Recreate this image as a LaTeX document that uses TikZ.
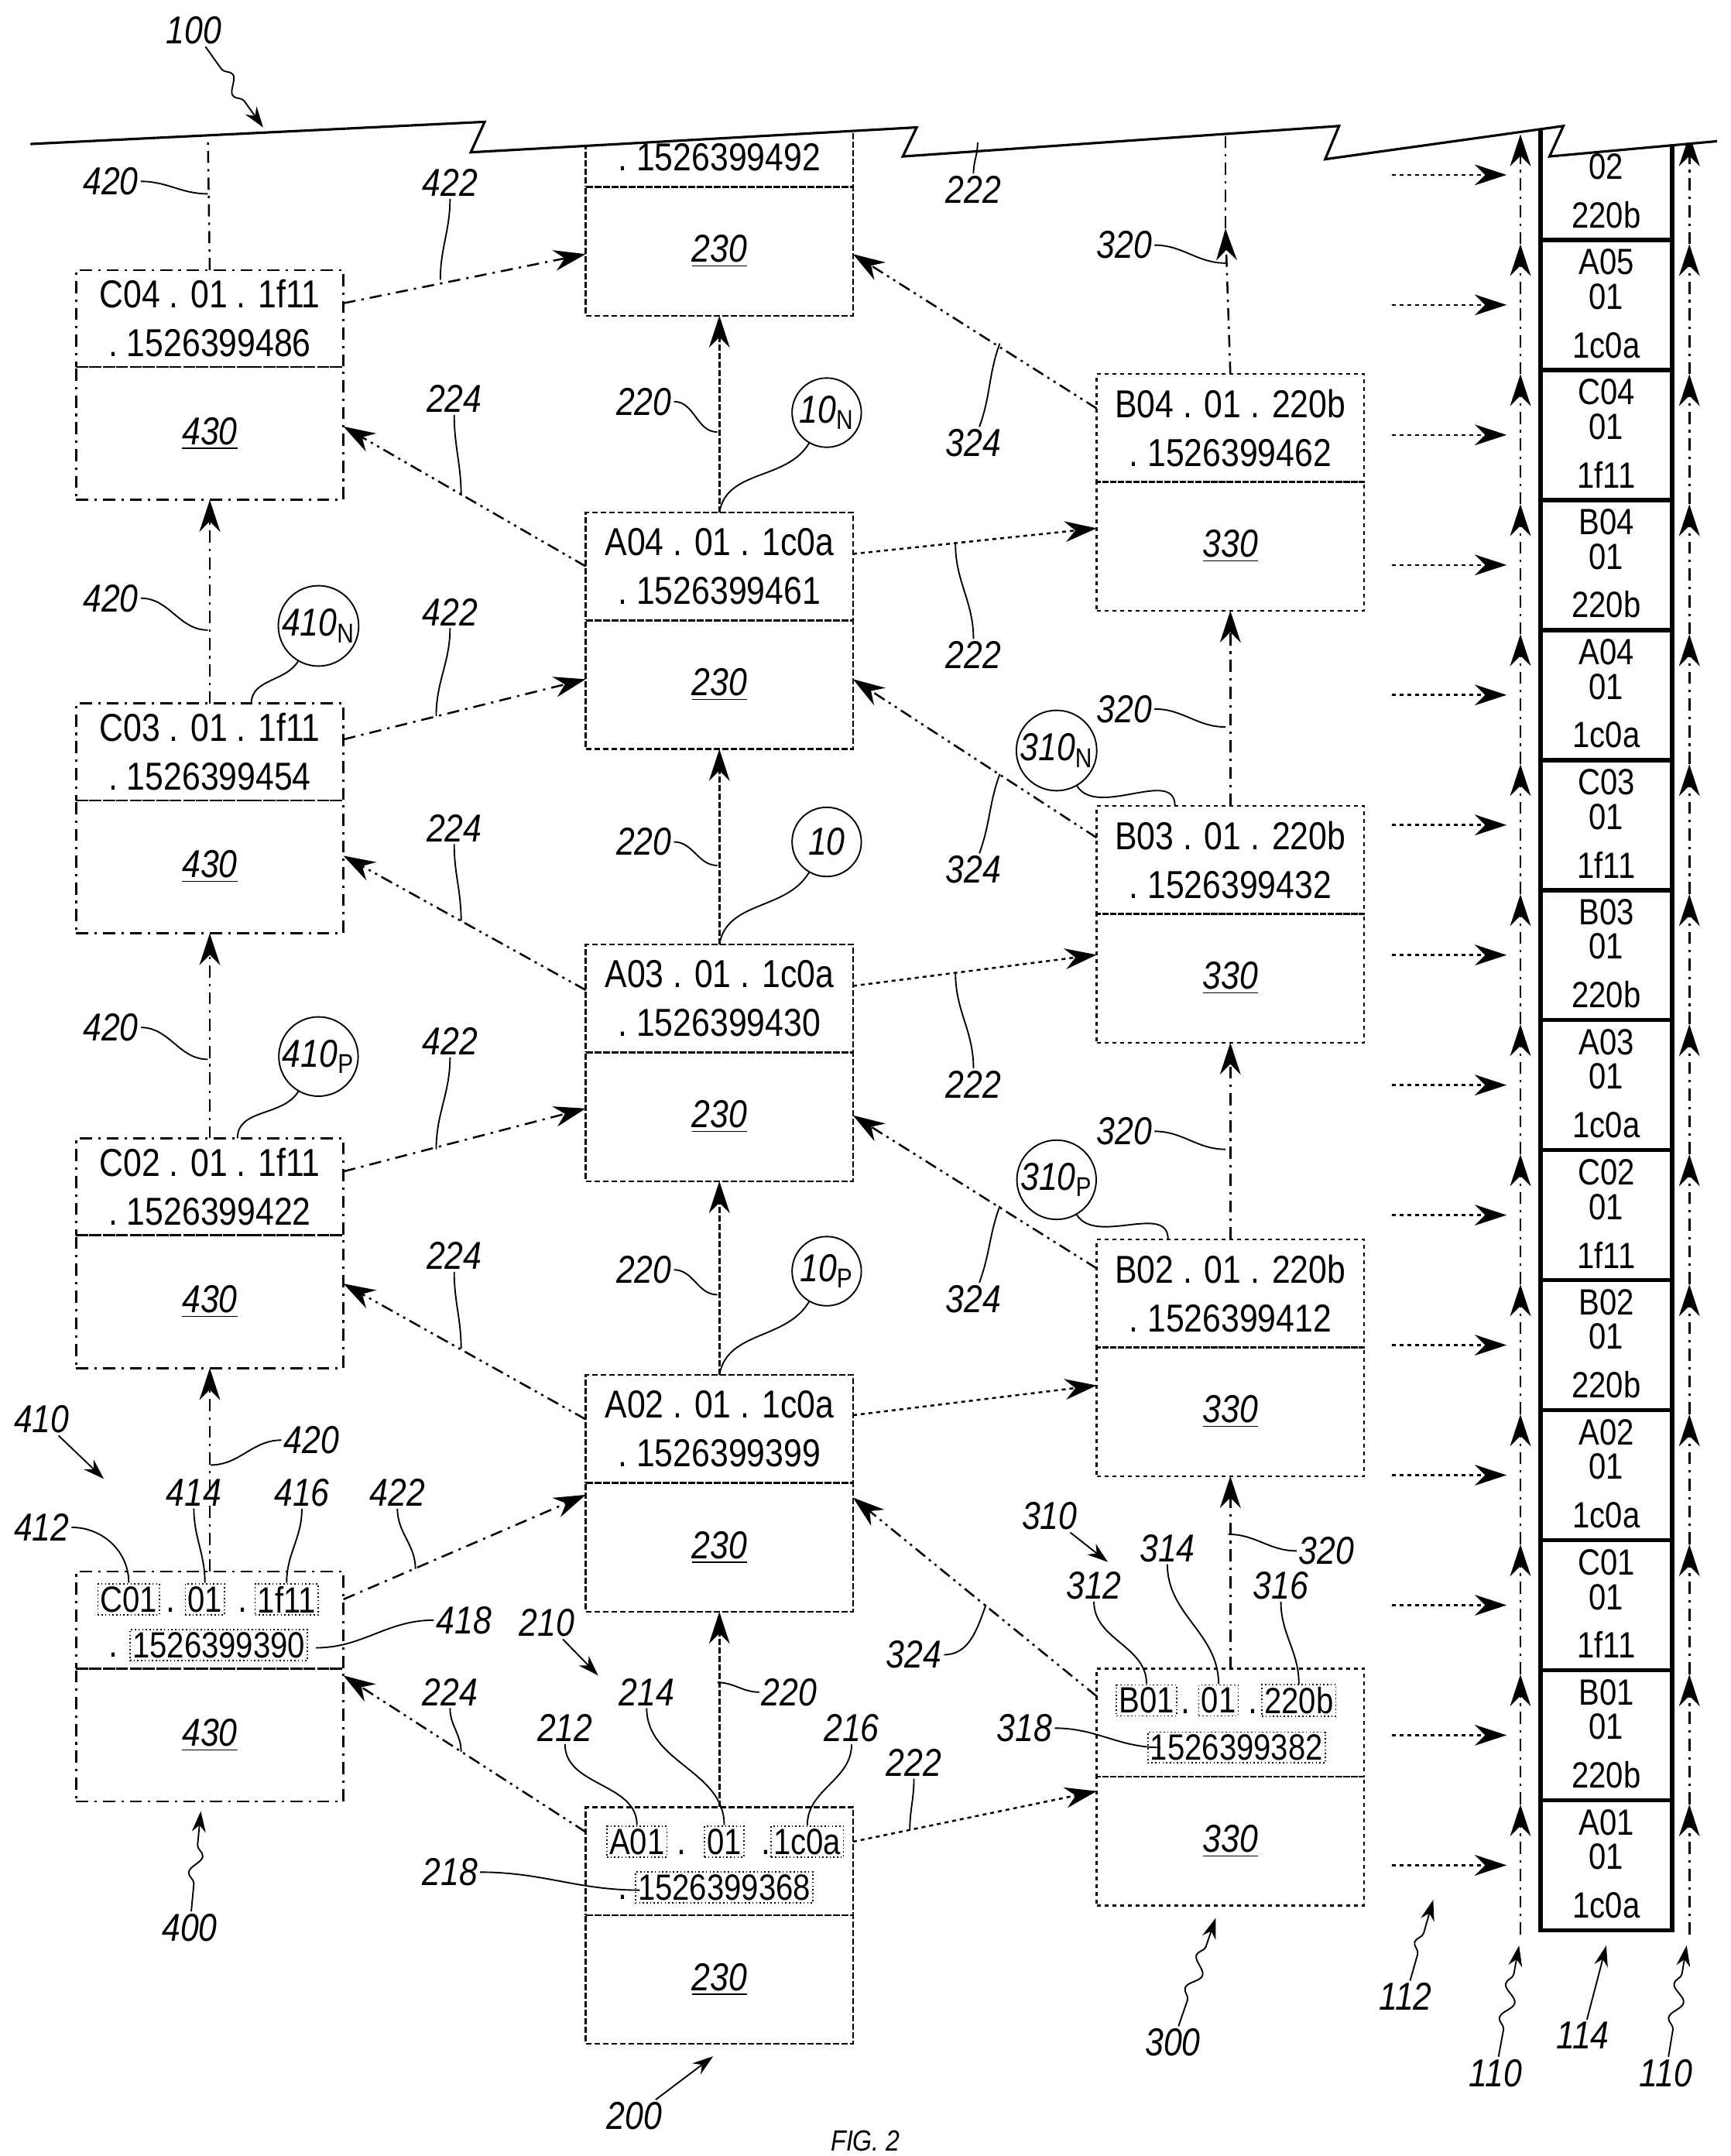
\documentclass[tikz,border=0pt]{standalone}
\usepackage{fontspec}
\setmainfont{Liberation Sans}
\newfontfamily\boxfont[FakeStretch=0.85]{Liberation Sans}
\newfontfamily\reffont[FakeStretch=0.85]{Liberation Sans Italic}
\usetikzlibrary{arrows.meta,positioning,decorations.pathmorphing}

\tikzset{
  every node/.style={outer sep=0pt},
  hdr/.style={minimum width=38.6mm,minimum height=15.6mm,inner sep=0pt,align=center,
    font=\boxfont\fontsize{16}{20}\selectfont},
  bdy/.style={minimum width=38.6mm,minimum height=18.6mm,inner sep=0pt,
    font=\reffont\fontsize{16}{20}\selectfont},
  lineA/.style={draw,line width=0.8pt,dash pattern=on 2.5pt off 1pt},
  lineB/.style={draw,line width=0.8pt,dash pattern=on 1.6pt off 1.6pt},
  lineC/.style={draw,line width=0.8pt,dash pattern=on 5pt off 2.5pt on 1pt off 2.5pt},
  lineD/.style={draw,line width=0.8pt,dash pattern=on 5pt off 2pt on 1pt off 2pt on 1pt off 2pt},
  arr/.style={-{Stealth[length=4.6mm,width=3mm]}},
  sub/.style={draw,line width=0.5pt,densely dotted,inner sep=1pt,font=\boxfont\fontsize{15}{18}\selectfont},
  dot/.style={inner sep=0pt,font=\boxfont\fontsize{16}{20}\selectfont},
  ref/.style={inner sep=1pt,font=\reffont\fontsize{16}{20}\selectfont},
  lead/.style={line width=0.6pt},
  circ/.style={circle,draw,line width=0.6pt,minimum size=10mm,inner sep=0pt,font=\reffont\fontsize{16}{20}\selectfont},
  cell/.style={draw,line width=1.8pt,minimum width=19mm,minimum height=18.78mm,inner sep=0pt},
  celltext/.style={inner sep=0pt,align=center,font=\boxfont\fontsize{15}{14.2}\selectfont},
  squig/.style={lead,decorate,decoration={snake,segment length=5mm,amplitude=0.9mm,pre length=4mm,post length=4mm}}
}
\newcommand\refl[6]{\node[ref] (#1) at (#2) {#3}; \coordinate (#1t) at (#4);
  \draw[lead] (#1) to[out=#5,in=#6] (#1t);}
\newcommand\squl[4]{\node[ref] (#1) at (#2) {#3}; \coordinate (#1t) at (#4);
  \draw[squig,-{Stealth[length=3mm,width=2mm]}] (#1) -- (#1t);}

\begin{document}
\begin{tikzpicture}[x=0.2mm,y=-0.2mm]
\useasboundingbox (0,0) rectangle (1250,1557);

% broken top edge
\begin{scope}
\clip (22,104) -- (350,88) -- (340,110) -- (662,92) -- (652,113) -- (967,91) -- (957,115)
  -- (1129,91) -- (1119,113) -- (1250,100) -- (1250,1557) -- (0,1557) -- cycle;

% column 200
\foreach \i/\y/\t in {2/993/1526399399,3/682/1526399430,4/370/1526399461,5/57/1526399492}{
  \node[hdr,lineA,anchor=north west] (a\i) at (423,\y) {A0\i\ . 01 . 1c0a\\ .\ \t};
  \node[bdy,lineA,below=0pt of a\i] (a\i b) {\underline{230}};
}
\node[hdr,lineA,anchor=north west] (a1) at (423,1305) {};
\node[bdy,lineA,below=0pt of a1] (a1b) {\underline{230}};
\node[sub] (a1x) at (460,1330) {A01};
\node[dot] at (492,1338) {.};
\node[sub] (a1y) at (523,1330) {01};
\node[dot] at (553,1338) {.};
\node[sub] (a1z) at (583,1330) {1c0a};
\node[dot] at (450,1370) {.};
\node[sub] (a1t) at (523,1363) {1526399368};

% column 400
\foreach \i/\y/\t in {2/822/1526399422,3/508/1526399454,4/195/1526399486}{
  \node[hdr,lineC,minimum height=14mm,anchor=north west] (c\i) at (55,\y) {C0\i\ . 01 . 1f11\\ .\ \t};
  \node[bdy,lineC,minimum height=19.2mm,below=0pt of c\i] (c\i b) {\underline{430}};
}
\node[hdr,lineC,minimum height=14mm,anchor=north west] (c1) at (55,1135) {};
\node[bdy,lineC,minimum height=19.2mm,below=0pt of c1] (c1b) {\underline{430}};
\node[sub] (c1x) at (93,1155) {C01};
\node[dot] at (123,1163) {.};
\node[sub] (c1y) at (148,1155) {01};
\node[dot] at (175,1163) {.};
\node[sub] (c1z) at (207,1155) {1f11};
\node[dot] at (82,1195) {.};
\node[sub] (c1t) at (158,1188) {1526399390};

% column 300
\foreach \i/\y/\t in {2/895/1526399412,3/582/1526399432,4/270/1526399462}{
  \node[hdr,lineB,anchor=north west] (b\i) at (792,\y) {B0\i\ . 01 . 220b\\ .\ \t};
  \node[bdy,lineB,below=0pt of b\i] (b\i b) {\underline{330}};
}
\node[hdr,lineB,anchor=north west] (b1) at (792,1205) {};
\node[bdy,lineB,below=0pt of b1] (b1b) {\underline{330}};
\node[sub] (b1x) at (828,1228) {B01};
\node[dot] at (856,1236) {.};
\node[sub] (b1y) at (880,1228) {01};
\node[dot] at (905,1236) {.};
\node[sub] (b1z) at (938,1228) {220b};
\node[sub] (b1t) at (893,1262) {1526399382};

% links between the columns
\foreach \i/\j in {1/2,2/3,3/4,4/5}{
  \draw[lineA,arr] (a\i.north) -- (a\j b.south);
}
\foreach \i/\j in {1/2,2/3,3/4}{
  \draw[lineC,arr] (c\i.north) -- (c\j b.south);
  \draw[lineC,arr] (b\i.north) -- (b\j b.south);
}
\coordinate (ctop) at (150,90);
\coordinate (btip) at (885,165);
\coordinate (btop) at (885,90);
\draw[lineC] (c4.north) -- (ctop);
\draw[lineC,arr] (b4.north) -- (btip);
\draw[lineC] (btip) -- (btop);
\foreach \i/\s/\e in {1/2.8/7.2,2/2/3.8,3/1.8/3.4,4/1.8/2.6}{
  \draw[lineB,arr] ([yshift=\s mm]a\i.east) -- ([yshift=\e mm]b\i b.west);
}
\foreach \i/\s/\e in {1/4.2/8.6,2/1.4/2.6,3/1.2/1.6,4/0/1}{
  \draw[lineD,arr] ([yshift=\s mm]a\i.west) -- ([yshift=\e mm]c\i b.east);
}
\foreach \i/\j/\s/\e in {1/2/3.8/7.2,2/3/3.6/0.2,3/4/3.2/0.8,4/5/2.8/-0.4}{
  \draw[lineD,arr] ([yshift=\s mm]b\i.west) -- ([yshift=\e mm]a\j b.east);
}
\foreach \i/\j/\s/\e in {1/2/3/7.6,2/3/2.2/1.2,3/4/1.8/0.8,4/5/2.2/-0.4}{
  \draw[lineC,arr] ([yshift=\s mm]c\i.east) -- ([yshift=\e mm]a\j b.west);
}

% ledger 114
\foreach \p/\q/\r [count=\k from 0] in {A01/01/1c0a,B01/01/220b,C01/01/1f11,A02/01/1c0a,
    B02/01/220b,C02/01/1f11,A03/01/1c0a,B03/01/220b,C03/01/1f11,A04/01/1c0a,
    B04/01/220b,C04/01/1f11,A05/01/1c0a,B05/02/220b}{
  \node[cell] (l\k) at (1160,{1347-93.9*\k}) {};
  \node[celltext] at (1160,{1346-93.9*\k}) {\p\\\q\\[5.8pt]\r};
  \coordinate (h\k) at (1005,{1347-93.9*\k});
  \coordinate (g\k) at (1088,{1347-93.9*\k});
  \draw[lineB,arr] (h\k) -- (g\k);
}
\foreach \x/\n in {1098/u,1220/v}{
  \foreach \k in {0,...,13}{
    \coordinate (\n\k) at (\x,{1397-93.9*\k});
  }
  \coordinate (\n14) at (\x,97);
  \foreach \k [evaluate=\k as \m using int(\k+1)] in {0,...,13}{
    \draw[lineC,arr] (\n\k) -- (\n\m);
  }
}
\end{scope}
\draw[line width=1pt] (22,104) -- (350,88) -- (340,110) -- (662,92) -- (652,113) -- (967,91)
  -- (957,115) -- (1129,91) -- (1119,113) -- (1240,102);

% circled references
\node[circ] (k1) at (597,918) {10\textsubscript{\itshape P}};
\node[circ] (k2) at (597,608) {10};
\node[circ] (k3) at (597,298) {10\textsubscript{\itshape N}};
\node[circ] (k4) at (230,763) {410\textsubscript{\itshape P}};
\node[circ] (k5) at (230,452) {410\textsubscript{\itshape N}};
\node[circ] (k6) at (763,852) {310\textsubscript{\itshape P}};
\node[circ] (k7) at (763,542) {310\textsubscript{\itshape N}};
\draw[lead] (k1) to[out=240,in=80] (a2.north);
\draw[lead] (k2) to[out=240,in=80] (a3.north);
\draw[lead] (k3) to[out=240,in=80] (a4.north);
\draw[lead] (k4) to[out=240,in=90] ([xshift=4mm]c2.north);
\draw[lead] (k5) to[out=240,in=90] ([xshift=6mm]c3.north);
\draw[lead] (k6) to[out=-60,in=90] ([xshift=-9mm]b2.north);
\draw[lead] (k7) to[out=-60,in=90] ([xshift=-8mm]b3.north);

% reference numerals
\refl{r1}{80,131}{420}{150,140}{0}{180}
\refl{r2}{325,132}{422}{318,202}{-90}{90}
\refl{r3}{703,137}{222}{706,103}{90}{-90}
\refl{r4}{812,177}{320}{885,190}{0}{180}
\refl{r5}{328,288}{224}{333,358}{-90}{90}
\refl{r6}{465,290}{220}{518,312}{0}{180}
\refl{r7}{703,320}{324}{722,248}{70}{-110}
\refl{r8}{80,432}{420}{150,455}{0}{180}
\refl{r9}{325,442}{422}{315,517}{-90}{90}
\refl{r10}{703,473}{222}{690,393}{90}{-90}
\refl{r11}{812,512}{320}{885,525}{0}{180}
\refl{r12}{328,598}{224}{333,665}{-90}{90}
\refl{r13}{465,608}{220}{518,625}{0}{180}
\refl{r14}{703,628}{324}{722,559}{70}{-110}
\refl{r15}{80,742}{420}{150,765}{0}{180}
\refl{r16}{325,752}{422}{315,830}{-90}{90}
\refl{r17}{703,783}{222}{690,703}{90}{-90}
\refl{r18}{812,817}{320}{885,830}{0}{180}
\refl{r19}{328,907}{224}{333,974}{-90}{90}
\refl{r20}{465,917}{220}{518,935}{0}{180}
\refl{r21}{703,938}{324}{722,871}{70}{-110}
\refl{r22}{225,1040}{420}{152,1058}{180}{0}
\refl{r23}{287,1078}{422}{300,1133}{-90}{90}
\refl{r24}{140,1078}{414}{148,1143}{-90}{90}
\refl{r25}{218,1078}{416}{207,1143}{-90}{90}
\refl{r26}{30,1103}{412}{93,1143}{0}{90}
\refl{r27}{335,1170}{418}{228,1190}{180}{0}
\refl{r28}{325,1222}{224}{333,1265}{-90}{90}
\refl{r29}{570,1222}{220}{518,1215}{180}{0}
\refl{r30}{467,1222}{214}{523,1318}{-90}{90}
\refl{r31}{408,1248}{212}{460,1318}{-90}{90}
\refl{r32}{615,1248}{216}{583,1318}{-90}{90}
\refl{r33}{660,1273}{222}{657,1322}{-90}{90}
\refl{r34}{325,1352}{218}{462,1365}{0}{180}
\refl{r35}{660,1195}{324}{712,1159}{0}{-110}
\refl{r36}{790,1145}{312}{828,1216}{-90}{90}
\refl{r37}{843,1118}{314}{880,1216}{-90}{90}
\refl{r38}{925,1145}{316}{938,1216}{-90}{90}
\refl{r39}{958,1120}{320}{887,1108}{180}{0}
\refl{r40}{740,1248}{318}{838,1262}{0}{180}
\squl{s1}{140,22}{100}{190,92}
\squl{s2}{30,1025}{410}{75,1068}
\squl{s3}{395,1172}{210}{432,1210}
\squl{s4}{758,1095}{310}{800,1128}
\squl{s5}{137,1392}{400}{145,1308}
\squl{s6}{458,1528}{200}{515,1485}
\squl{s7}{847,1475}{300}{878,1385}
\squl{s8}{1015,1442}{112}{1035,1372}
\squl{s9}{1080,1497}{110}{1097,1405}
\squl{s10}{1143,1470}{114}{1160,1405}
\squl{s11}{1203,1497}{110}{1218,1405}
\node[ref,font=\reffont\fontsize{12}{14}\selectfont] (fig) at (625,1546) {FIG. 2};
\end{tikzpicture}
\end{document}
